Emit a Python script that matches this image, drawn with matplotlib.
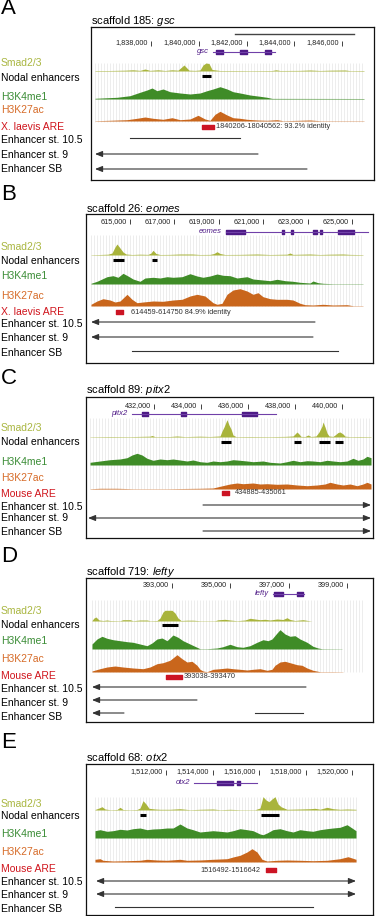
import numpy as np
import matplotlib.pyplot as plt

plt.rcParams['font.family'] = ['Liberation Sans', 'DejaVu Sans']
plt.rcParams['mathtext.fontset'] = 'custom'
plt.rcParams['mathtext.rm'] = 'Liberation Sans'
plt.rcParams['mathtext.it'] = 'Liberation Sans:italic'

W, H = 376, 916

SMAD = '#a9b43c'
K4 = '#3f8c27'
K27 = '#c9661c'
ARE = '#cc1424'
GENE = '#4e1a86'
GENE_LINE = '#7040a8'
ENH = '#333333'

# ---------------- data (positions in kb) ----------------
# A  scaffold 185: gsc
a_ticks = [1838, 1840, 1842, 1844, 1846]
a_scale = (1841.5, 1846.5)
a_gene = (1840.597, 1843.194)
a_exons = [(1840.723, 1841.016), (1841.728, 1842.021), (1842.775, 1843.026)]
a_smad_x = [1835.654, 1836.283, 1836.911, 1837.246, 1837.539, 1837.749, 1837.958, 1838.293, 1838.586, 1838.880,
            1839.131, 1839.382, 1839.592, 1839.843, 1840.052, 1840.178, 1840.304, 1840.429, 1840.555, 1840.890,
            1841.518, 1842.147, 1843.068, 1843.236, 1843.403, 1844.241, 1844.660, 1845.079, 1845.497, 1846.126,
            1846.335, 1846.921]
a_smad_y = [0.5, 0.5, 0.8, 1.2, 0.6, 2, 0.6, 1.2, 0.5, 1.2, 0.8, 6, 0.8, 0.6, 1, 6, 8, 7.5, 1.5, 0.5,
            0.5, 0.4, 0.5, 1.2, 0.5, 0.6, 1, 0.5, 0.8, 1, 0.4, 0.5]
a_k4_x = [1835.654, 1836.576, 1837.120, 1837.539, 1837.832, 1838.042, 1838.251, 1838.503, 1838.796, 1839.215,
          1839.634, 1840.052, 1840.346, 1840.597, 1840.890, 1841.183, 1841.435, 1841.728, 1842.147, 1842.565,
          1842.859, 1843.068, 1846.921]
a_k4_y = [0.7, 1.7, 3.3, 6.7, 9, 11, 8.3, 10, 7.3, 6, 5, 6, 8.3, 10, 12.3, 10, 7.3, 6, 4, 2.7, 1.7, 0.6, 0.5]
a_k27_x = [1835.654, 1836.283, 1836.995, 1837.414, 1837.749, 1838.084, 1838.503, 1838.880, 1839.215, 1839.634,
           1839.969, 1840.262, 1840.471, 1840.681, 1840.890, 1841.183, 1841.435, 1841.728, 1842.021, 1842.440,
           1842.859, 1843.277, 1843.529, 1844.241, 1844.660, 1845.079, 1846.921]
a_k27_y = [0.3, 0.7, 1.3, 2.7, 4, 2.7, 1.7, 3.3, 1.3, 2, 5.7, 2, 0.7, 6.7, 9.7, 6, 3.3, 2.7, 1.7, 1,
           0.7, 1.3, 0.3, 0.7, 1, 0.3, 0.3]
a_nodal = [(1840.136, 1840.513)]
a_are = (1840.15, 1840.62)
a_are_text = '1840206-18040562: 93.2% identity'
a_enh = [(0, 1837.120, 1841.728, '-'), (1, 1842.482, 1835.654, '-|>'), (2, 1844.534, 1835.654, '-|>')]

# B  scaffold 26: eomes
b_ticks = [615, 617, 619, 621, 623, 625]
b_gene = (619.324, 625.721)
b_exons = [(619.324, 620.180), (621.847, 621.937), (622.252, 622.342), (623.243, 623.423),
           (623.559, 623.649), (624.369, 625.090)]
b_smad_x = [613.243, 613.649, 614.009, 614.189, 614.324, 614.414, 614.550, 614.685, 614.820, 615.090,
            615.450, 615.811, 615.946, 616.036, 616.171, 616.351, 616.802, 617.252, 617.793, 618.153,
            618.604, 618.784, 618.919, 619.054, 619.279, 619.955, 620.721, 621.306, 622.072, 622.207,
            622.342, 623.108, 623.559, 624.009, 624.595, 624.910, 625.495]
b_smad_y = [0.3, 0.5, 0.8, 2, 8, 11, 7, 3, 1, 0.5, 0.8, 0.6, 2, 4.7, 1.5, 0.5, 0.6, 1, 1, 0.5,
            0.6, 1.5, 3.3, 1.5, 0.5, 0.6, 1, 0.5, 0.8, 2, 0.6, 1, 0.5, 0.8, 1, 0.6, 0.4]
b_k4_x = [613.243, 613.514, 613.964, 614.234, 614.459, 614.685, 614.910, 615.135, 615.450, 615.676,
          616.036, 616.351, 616.667, 616.937, 617.342, 617.703, 618.018, 618.288, 618.604, 618.919,
          619.189, 619.505, 619.820, 620.270, 620.541, 620.991, 621.306, 621.622, 621.982, 622.342,
          622.658, 623.108, 623.243, 623.468, 623.694, 624.144, 625.495]
b_k4_y = [0.7, 2.7, 7.3, 8.3, 6.7, 10.7, 8, 5, 2.7, 6, 6.7, 6, 7.3, 6.7, 7.3, 10.3, 8, 6.7, 8, 10,
          8.7, 8.3, 6, 7.3, 5, 4, 3.3, 4.7, 3.3, 2.7, 1.7, 1, 3, 1.3, 0.7, 0.3, 0.3]
b_k27_x = [613.243, 613.514, 613.784, 614.099, 614.324, 614.550, 614.865, 615.090, 615.315, 615.586,
           616.036, 616.486, 616.937, 617.342, 617.703, 618.018, 618.378, 618.739, 618.919, 619.144,
           619.369, 619.640, 619.955, 620.270, 620.541, 620.766, 620.991, 621.306, 621.622, 622.072,
           622.342, 622.658, 622.883, 623.243, 623.694, 624.144, 624.775, 625.045, 625.495]
b_k27_y = [1.7, 5, 7.3, 6, 4, 5, 11.7, 6.7, 3.3, 4, 5, 4.7, 6, 6.7, 10, 11.7, 10, 3.3, 1.7, 2.7,
           11.7, 16, 17.3, 15, 11.7, 13.3, 9.3, 7.3, 6.7, 6.7, 6, 2.7, 1.3, 1, 1.7, 1, 1.3, 0.3, 0.3]
b_nodal = [(614.234, 614.730), (615.991, 616.216)]
b_are = (614.369, 614.685)
b_are_text = '614459-614750 84.9% identity'
b_enh = [(0, 623.333, 613.243, '-|>'), (1, 623.243, 613.243, '-|>'), (2, 615.090, 624.369, '-')]

# C  scaffold 89: pitx2
c_ticks = [432, 434, 436, 438, 440]
c_gene = (431.064, 437.191)
c_exons = [(431.489, 431.745), (433.149, 433.362), (435.745, 436.383)]
c_smad_x = [429.277, 430.128, 430.979, 431.830, 431.915, 432.043, 432.681, 432.979, 433.319, 433.957,
            434.383, 434.809, 434.894, 434.979, 435.106, 435.191, 435.277, 435.362, 435.489, 436.085,
            436.936, 437.574, 437.915, 438.000, 438.085, 438.170, 438.255, 438.426, 438.553, 438.681,
            438.894, 439.021, 439.149, 439.191, 439.277, 439.362, 439.447, 439.617, 439.702, 439.830,
            439.915, 440.043, 440.128, 440.340, 440.766, 441.234]
c_smad_y = [0.3, 0.5, 0.4, 0.8, 1.5, 0.4, 0.5, 1, 0.4, 0.8, 0.5, 1, 6, 10, 17.3, 12, 8, 2, 0.4, 0.5,
            0.4, 0.6, 1, 3, 5, 3, 0.6, 0.5, 2, 0.5, 1, 5, 11, 15, 10, 4, 1, 0.6, 2, 4.5,
            5, 3, 0.8, 0.4, 0.5, 0.4]
c_k4_x = [429.277, 429.702, 430.128, 430.553, 430.851, 431.064, 431.277, 431.489, 431.702, 431.957,
          432.255, 432.553, 432.809, 433.106, 433.404, 433.660, 433.957, 434.255, 434.511, 434.809,
          435.106, 435.362, 435.660, 435.957, 436.213, 436.638, 436.936, 437.362, 437.660, 437.915,
          438.213, 438.511, 438.766, 439.064, 439.362, 439.617, 439.915, 440.213, 440.468, 440.681,
          440.894, 441.064, 441.234]
c_k4_y = [2.7, 4, 5.3, 6, 7.3, 10, 11.7, 10, 6.7, 4.7, 6, 5.3, 6, 5, 4, 5, 3.3, 2.7, 4, 3.3,
          4, 5.3, 4.7, 4, 3.3, 4, 2.7, 2, 3.3, 4.7, 3.3, 4.3, 4, 3.3, 4.7, 4, 3.3, 4, 6.7, 4.7,
          6, 8.7, 7.3]
c_k27_x = [429.277, 429.702, 430.426, 431.106, 431.830, 432.553, 433.234, 433.957, 434.511, 434.809,
           435.234, 435.532, 435.787, 436.213, 436.511, 436.809, 437.234, 437.660, 438.085, 438.511,
           438.936, 439.277, 439.489, 439.787, 440.043, 440.340, 440.638, 440.894, 441.064, 441.234]
c_k27_y = [0.3, 0.7, 0.7, 0.3, 0.3, 0.3, 0.5, 0.7, 1, 2.7, 5, 6, 5.3, 6, 5, 5.3, 4.7, 5, 4, 3.3,
           4, 5, 6.7, 5, 4, 5, 3.3, 5, 6.7, 5]
c_nodal = [(434.851, 435.277), (437.957, 438.255), (439.021, 439.489), (439.702, 440.043)]
c_are = (434.894, 435.191)
c_are_text = '434885-435061'
c_enh = [(0, 434.085, 441.234, '-|>'), (1, 429.191, 441.234, '<|-|>'), (2, 434.085, 441.234, '-|>')]

# D  scaffold 719: lefty
d_ticks = [393, 395, 397, 399]
d_gene = (396.463, 397.525)
d_exons = [(396.497, 396.805), (397.285, 397.491)]
d_smad_x = [390.257, 390.326, 390.395, 390.497, 390.635, 390.772, 390.875, 391.217, 391.320, 391.560,
            391.663, 391.903, 392.143, 392.246, 392.486, 392.589, 392.691, 392.760, 393.000, 393.103,
            393.206, 393.309, 393.514, 393.720, 393.960, 394.474, 394.577, 394.817, 394.988, 395.228,
            395.503, 395.674, 395.845, 396.017, 396.188, 396.360, 396.600, 396.805, 396.942, 397.045,
            397.217, 397.491, 397.662, 397.799]
d_smad_y = [0.5, 3, 4, 1, 0.5, 1, 0.5, 0.3, 1.3, 1.3, 0.3, 1, 1, 0.3, 0.5, 3, 9, 10.7, 10.7, 8,
            3, 0.5, 0.8, 0.8, 0.3, 0.3, 1.2, 1.7, 1, 0.3, 1, 2.7, 2, 1.3, 1.7, 1, 2, 1.5, 3.3, 1.5,
            0.5, 1.3, 0.5, 0]
d_k4_x = [390.257, 390.429, 390.600, 390.772, 390.977, 391.217, 391.457, 391.663, 391.903, 392.143,
          392.314, 392.486, 392.657, 392.829, 393.034, 393.206, 393.377, 393.617, 393.857, 393.960,
          394.200, 394.543, 394.748, 394.988, 395.228, 395.434, 395.674, 395.914, 396.120, 396.291,
          396.428, 396.600, 396.702, 396.874, 397.045, 397.217, 397.388, 397.628, 397.834, 398.005,
          398.142, 398.828]
d_k4_y = [5, 10, 12.7, 10.7, 9.3, 8.3, 7.3, 6.7, 5, 3.3, 6, 10, 11, 8.3, 14, 11.7, 8.3, 5, 1.7, 0.3,
          0.3, 1, 2.3, 4.7, 2.3, 1.7, 3.3, 6.7, 9.3, 8.3, 10, 16, 19.3, 15, 12.7, 13.3, 10, 6.7, 2.7, 1,
          0.3, 0.2]
d_k27_x = [390.257, 390.532, 390.772, 391.046, 391.320, 391.663, 392.006, 392.246, 392.486, 392.691,
           392.931, 393.171, 393.343, 393.514, 393.686, 393.857, 393.960, 394.063, 394.200, 394.406,
           394.646, 394.885, 395.091, 395.331, 395.571, 395.777, 396.017, 396.257, 396.428, 396.531,
           396.702, 396.874, 397.045, 397.285, 397.457, 397.628, 397.834, 398.074, 398.519, 398.862]
d_k27_y = [1, 3.3, 5, 6, 5, 4, 3.3, 5, 8.3, 9.3, 11.7, 17.3, 13.3, 10, 10.7, 6.7, 2.7, 1, 0.3, 2.7,
           3.3, 4, 3.3, 2.7, 2, 2.7, 3.3, 1.7, 2.7, 6.7, 10, 10.7, 9.3, 7.3, 6.7, 4, 1.7, 0.3, 0.3, 0.2]
d_nodal = [(392.657, 393.206)]
d_are = (392.794, 393.343)
d_are_text = '393038-393470'
d_enh = [(0, 397.594, 390.257, '-|>'), (1, 393.857, 390.257, '-|>'), (2, 391.354, 390.257, '-|>'),
         (2, 395.845, 397.491, '-')]

# E  scaffold 68: otx2
e_ticks = [1512, 1514, 1516, 1518, 1520]
e_gene = (1513.204, 1515.914)
e_exons = [(1514.194, 1514.882), (1515.054, 1515.183)]
e_smad_x = [1508.946, 1509.118, 1509.247, 1509.376, 1509.591, 1509.892, 1510.022, 1510.151, 1510.452, 1510.753,
            1510.882, 1511.011, 1511.140, 1511.269, 1511.527, 1511.742, 1512.172, 1512.602, 1513.032, 1513.462,
            1514.022, 1514.323, 1514.753, 1515.183, 1515.828, 1516.043, 1516.172, 1516.301, 1516.430, 1516.559,
            1516.688, 1516.817, 1516.946, 1517.204, 1517.763, 1518.194, 1518.409, 1518.624, 1518.925, 1519.183,
            1519.484, 1519.785, 1520.172]
e_smad_y = [0.5, 2, 3.3, 1, 0.3, 0.5, 2.7, 0.5, 0.3, 0.5, 2, 9.3, 6, 1.7, 1, 0.7, 0.7, 1.3, 0.3, 0.7,
            1, 0.3, 0.7, 0.3, 0.3, 2, 13.3, 10, 8.3, 11, 13.3, 6, 3.3, 0.7, 1, 1.3, 1.7, 0.8, 2.7, 1.3,
            0.7, 1, 0.7]
e_k4_x = [1508.946, 1509.161, 1509.462, 1509.720, 1510.022, 1510.323, 1510.581, 1510.882, 1511.183, 1511.441,
          1511.742, 1512.043, 1512.301, 1512.602, 1512.903, 1513.161, 1513.462, 1513.763, 1514.022, 1514.323,
          1514.624, 1514.882, 1515.183, 1515.484, 1515.742, 1516.043, 1516.172, 1516.344, 1516.602, 1516.903,
          1517.204, 1517.462, 1517.763, 1518.065, 1518.323, 1518.624, 1518.925, 1519.183, 1519.484, 1519.785,
          1520.000, 1520.172]
e_k4_y = [7.3, 8.3, 6.7, 7.3, 8.7, 8, 9.3, 10, 8.3, 9, 9.3, 10, 10, 14, 10, 8.3, 6, 6.7, 7.3, 6.7,
          6, 7.3, 9.3, 8.3, 7.3, 4, 3.3, 5, 8.3, 9.3, 7.3, 6, 8.3, 7.3, 6.7, 8.3, 9.3, 10, 10.7, 13.3,
          10, 7.3]
e_k27_x = [1508.946, 1509.161, 1509.290, 1509.720, 1510.323, 1510.882, 1511.183, 1511.613, 1512.043, 1512.602,
           1512.903, 1513.462, 1514.022, 1514.624, 1514.882, 1515.183, 1515.484, 1515.699, 1515.914, 1516.129,
           1516.344, 1516.774, 1517.204, 1517.763, 1518.323, 1518.925, 1519.484, 1519.828, 1520.172]
e_k27_y = [2.7, 3.3, 1.7, 1, 1.3, 1.7, 2.7, 2, 1.7, 2.7, 1.7, 2, 2.7, 3.3, 5, 6.7, 10, 13.3, 10, 2.7,
           1, 1.7, 2, 1.7, 1.3, 1.7, 3.3, 5.3, 2.7]
e_nodal = [(1510.882, 1511.140), (1516.086, 1516.860)]
e_are = (1516.301, 1516.731)
e_are_text = '1516492-1516642'
e_enh = [(0, 1508.989, 1520.172, '<|-|>'), (1, 1508.989, 1520.172, '<|-|>'), (2, 1509.806, 1518.323, '-')]

# ---------------- layout (pixels) ----------------
panels = [
    dict(letter='A', letter_y=9, title=('185', 'gsc'), title_y=21, box=(91, 27, 374, 180),
         xlim=(1835.487, 1847.340), grid_x=(1835.654, 1846.921), grid_y=(36, 95),
         rows=dict(scale=7, ticks=16, gene=25, smad=44, nodal=49, k4=72, k27=94, are=100, enh=(111, 127, 142)),
         labels_y=(63, 78, 97, 110, 127, 140, 155, 169), are_name='X. laevis ARE', are_off=1.5,
         ticks=a_ticks, scale=a_scale, gene=a_gene, exons=a_exons, smad=(a_smad_x, a_smad_y),
         k4=(a_k4_x, a_k4_y), k27=(a_k27_x, a_k27_y), nodal=a_nodal, are=a_are, are_text=a_are_text, enh=a_enh),
    dict(letter='B', letter_y=195, title=('26', 'eomes'), title_y=208, box=(86, 214, 373, 363),
         xlim=(613.018, 625.946), grid_x=(613.243, 625.495), grid_y=(21, 92),
         rows=dict(ticks=8, gene=18, smad=41, nodal=46, k4=70, k27=92, are=98, enh=(108, 123, 137)),
         labels_y=(247, 261, 276, 296, 312, 324, 338, 353), are_name='X. laevis ARE', are_off=5.8,
         ticks=b_ticks, scale=None, gene=b_gene, exons=b_exons, smad=(b_smad_x, b_smad_y),
         k4=(b_k4_x, b_k4_y), k27=(b_k27_x, b_k27_y), nodal=b_nodal, are=b_are, are_text=b_are_text, enh=b_enh),
    dict(letter='C', letter_y=378, title=('89', 'pitx2'), title_y=390, box=(86, 397, 373, 538),
         xlim=(429.106, 441.319), grid_x=(429.277, 441.234), grid_y=(21, 92),
         rows=dict(ticks=9, gene=17, smad=40, nodal=45, k4=68, k27=92, are=96, enh=(108, 121, 134)),
         labels_y=(428, 442, 462, 478, 494, 507, 518, 532), are_name='Mouse ARE', are_off=4.3,
         ticks=c_ticks, scale=None, gene=c_gene, exons=c_exons, smad=(c_smad_x, c_smad_y),
         k4=(c_k4_x, c_k4_y), k27=(c_k27_x, c_k27_y), nodal=c_nodal, are=c_are, are_text=c_are_text, enh=c_enh),
    dict(letter='D', letter_y=557, title=('719', 'lefty'), title_y=572, box=(86, 578, 373, 722),
         xlim=(390.052, 399.891), grid_x=(390.257, 399.548), grid_y=(22, 94),
         rows=dict(ticks=7, gene=16, smad=43, nodal=47, k4=71, k27=94, are=99, enh=(109, 122, 135)),
         labels_y=(611, 625, 641, 659, 676, 689, 703, 717), are_name='Mouse ARE', are_off=1.5,
         ticks=d_ticks, scale=None, gene=d_gene, exons=d_exons, smad=(d_smad_x, d_smad_y),
         k4=(d_k4_x, d_k4_y), k27=(d_k27_x, d_k27_y), nodal=d_nodal, are=d_are, are_text=d_are_text, enh=d_enh),
    dict(letter='E', letter_y=742, title=('68', 'otx2'), title_y=757, box=(86, 764, 373, 915),
         xlim=(1508.559, 1520.903), grid_x=(1508.946, 1520.172), grid_y=(33, 98),
         rows=dict(ticks=8, gene=19, smad=46, nodal=51, k4=74, k27=98, are=106, enh=(117, 130, 143)),
         labels_y=(804, 816, 834, 852, 869, 882, 895, 909), are_name='Mouse ARE', are_off=-4.3,
         ticks=e_ticks, scale=None, gene=e_gene, exons=e_exons, smad=(e_smad_x, e_smad_y),
         k4=(e_k4_x, e_k4_y), k27=(e_k27_x, e_k27_y), nodal=e_nodal, are=e_are, are_text=e_are_text, enh=e_enh),
]

HEAD = ',head_length=0.55,head_width=0.22'

fig = plt.figure(figsize=(W / 100, H / 100), dpi=100)


def fy(y):
    return 1 - y / H


for p in panels:
    x0, y0, x1, y1 = p['box']
    ax = fig.add_axes([x0 / W, fy(y1), (x1 - x0) / W, (y1 - y0) / H])
    ax.set_xlim(*p['xlim'])
    ax.set_ylim(y1 - y0, 0)
    ax.set_xticks([])
    ax.set_yticks([])
    for s in ax.spines.values():
        s.set_linewidth(0.9)
        s.set_color('#111111')
    r = p['rows']

    # faint browser grid
    step = (p['xlim'][1] - p['xlim'][0]) / (x1 - x0) * 3
    ax.vlines(np.arange(p['grid_x'][0], p['grid_x'][1], step), p['grid_y'][0], p['grid_y'][1],
              color='#e6e6e6', lw=0.5, zorder=0)

    # base position ruler
    if p['scale']:
        ax.plot(p['scale'], [r['scale']] * 2, color='#444444', lw=1)
    for t in p['ticks']:
        ax.vlines(t, r['ticks'] - 2.5, r['ticks'] + 2.5, color='#222222', lw=0.6)
        ax.annotate(f'{int(round(t * 1000)):,}', (t, r['ticks']), xytext=(-2.5, 0),
                    textcoords='offset points', ha='right', va='center', fontsize=5.2, color='#222222')

    # gene model
    g0, g1 = p['gene']
    ax.plot([g0, g1], [r['gene']] * 2, color=GENE_LINE, lw=0.8)
    ax.broken_barh([(s, e - s) for s, e in p['exons']], (r['gene'] - 2, 4), color=GENE)
    ax.annotate(p['title'][1], (g0, r['gene']), xytext=(-3, 0.3), textcoords='offset points',
                ha='right', va='center', fontsize=5.5, style='italic', color=GENE)

    # signal tracks
    for key, col in (('smad', SMAD), ('k4', K4), ('k27', K27)):
        xs, ys = p[key]
        base = r[key]
        ax.fill_between(xs, base - np.array(ys), base, color=col, lw=0, zorder=2)

    # nodal enhancers
    for s, e in p['nodal']:
        ax.plot([s, e], [r['nodal']] * 2, color='black', lw=2.2, solid_capstyle='butt')

    # ARE
    s, e = p['are']
    ax.broken_barh([(s, e - s)], (r['are'] - 2, 4), color=ARE)
    if p['are_off'] > 0:
        ax.annotate(p['are_text'], (e, r['are']), xytext=(p['are_off'], 0), textcoords='offset points',
                    ha='left', va='center', fontsize=5.3, color='#333333')
    else:
        ax.annotate(p['are_text'], (s, r['are']), xytext=(p['are_off'], 0), textcoords='offset points',
                    ha='right', va='center', fontsize=5.3, color='#333333')

    # enhancer constructs
    for row, s, e, style in p['enh']:
        y = r['enh'][row]
        if style == '-':
            ax.plot([s, e], [y, y], color=ENH, lw=0.8)
        else:
            ax.annotate('', xy=(e, y), xytext=(s, y),
                        arrowprops=dict(arrowstyle=style + HEAD, color=ENH, lw=0.8,
                                        shrinkA=0, shrinkB=0, mutation_scale=8))

    # left-hand labels, panel letter and title
    names = ['Smad2/3', 'Nodal enhancers', 'H3K4me1', 'H3K27ac', p['are_name'],
             'Enhancer st. 10.5', 'Enhancer st. 9', 'Enhancer SB']
    cols = ['#a9b640', 'black', '#3a8c35', '#d66b28', '#d0141c', 'black', 'black', 'black']
    for name, col, ly in zip(names, cols, p['labels_y']):
        fig.text(1 / W, fy(ly), name, fontsize=7.5, color=col, va='center', ha='left')
    fig.text(1 / W, fy(p['letter_y']), p['letter'], fontsize=16, va='center', ha='left')
    fig.text(x0 / W, fy(p['title_y']), f'scaffold {p["title"][0]}: $\\it{{{p["title"][1]}}}$',
             fontsize=8, va='center', ha='left')

fig.savefig('out.png', dpi=100)
